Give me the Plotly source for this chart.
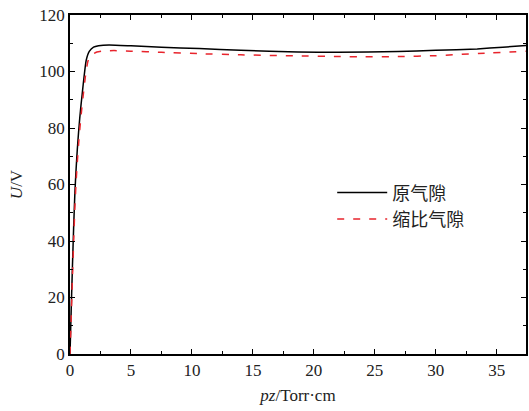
import plotly.graph_objects as go

# Breakdown voltage U (V) versus pz (Torr·cm)
pz_orig = [0, 0.1, 0.2, 0.3, 0.4, 0.5, 0.6, 0.7, 0.8, 0.9, 1.0, 1.08, 1.17, 1.33, 1.58,
           1.93, 2.34, 3.2, 5, 7.5, 10.6, 14, 18.7, 22, 26.9, 30, 33.4, 35.5, 37.5]
u_orig = [0, 16, 31, 45, 57, 65.5, 72.5, 78.3, 83.5, 88, 92, 95.3, 98.8, 104, 107.1,
          108.6, 109.1, 109.4, 109.1, 108.6, 108.1, 107.5, 106.9, 106.8, 107.1, 107.5,
          108.0, 108.6, 109.2]

pz_scaled = [0, 0.1, 0.2, 0.3, 0.4, 0.5, 0.6, 0.7, 0.8, 0.9, 1.0, 1.1, 1.2, 1.3, 1.47,
             1.65, 1.88, 2.2, 2.6, 3.6, 5, 7.5, 10.6, 14, 18.7, 22, 24.2, 26.9, 30, 34, 37.5]
u_scaled = [0, 13, 27, 40, 52, 61, 68, 74, 79.4, 84, 88.3, 92.2, 96, 99.5, 103.6,
            105.3, 106.2, 106.9, 107.2, 107.4, 107.2, 106.8, 106.3, 105.9, 105.5, 105.3,
            105.2, 105.3, 105.6, 106.5, 107.2]

series_names = ["原气隙", "缩比气隙"]

x_ticks = [0, 5, 10, 15, 20, 25, 30, 35]
y_ticks = [0, 20, 40, 60, 80, 100, 120]

serif = "Liberation Serif"

fig = go.Figure()
fig.add_trace(go.Scatter(
    x=pz_orig, y=u_orig, mode="lines", name=series_names[0],
    line=dict(color="black", width=1.5, shape="spline", smoothing=0.5),
))
fig.add_trace(go.Scatter(
    x=pz_scaled, y=u_scaled, mode="lines", name=series_names[1],
    line=dict(color="#e8242c", width=1.5, dash="7px,9px", shape="spline", smoothing=0.5),
))

tick_font = dict(family=serif, size=17, color="#222")
title_font = dict(family=serif, size=17, color="#222")

axis_common = dict(
    showgrid=False, zeroline=False, showline=True, linecolor="black", linewidth=1.5,
    mirror="ticks", ticks="inside", ticklen=5, tickwidth=1.2, tickcolor="black",
    tickfont=tick_font,
)

fig.update_layout(
    width=529, height=411,
    margin=dict(l=70, r=1, t=15, b=57),
    paper_bgcolor="white", plot_bgcolor="white",
    showlegend=True,
    legend=dict(
        x=0.575, y=0.53, xanchor="left", yanchor="top",
        bgcolor="rgba(0,0,0,0)", borderwidth=0, itemwidth=50,
        font=dict(family="Noto Sans CJK SC", size=18, color="#222"),
    ),
    xaxis=dict(
        axis_common, range=[0, 37.4], tickvals=x_ticks,
        minor=dict(dtick=2.5, ticks="inside", ticklen=3, tickwidth=1.2, tickcolor="black"),
        title=dict(text="<i>pz</i>/Torr·cm", font=title_font, standoff=10),
    ),
    yaxis=dict(
        axis_common, range=[0, 120], tickvals=y_ticks,
        minor=dict(dtick=10, ticks="inside", ticklen=3, tickwidth=1.2, tickcolor="black"),
        title=dict(text="<i>U</i>/V", font=title_font, standoff=12),
    ),
)

fig.write_html("out.html")
